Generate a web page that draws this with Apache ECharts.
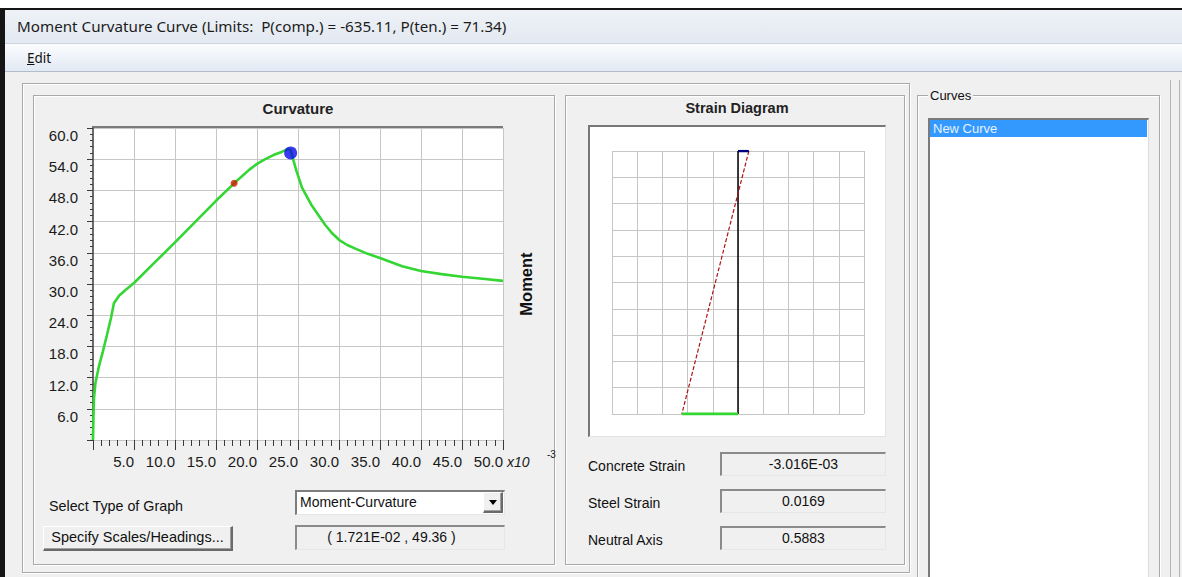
<!DOCTYPE html>
<html>
<head>
<meta charset="utf-8">
<title>Moment Curvature Curve</title>
<script src="https://cdn.jsdelivr.net/npm/echarts@6/dist/echarts.min.js"></script>
<style>
  html, body { margin: 0; padding: 0; background: #fff; }
  #page { position: relative; width: 1182px; height: 577px; overflow: hidden; background: #fff;
          font-family: "Liberation Sans", Arial, sans-serif; color: #111; }
  .a { position: absolute; box-sizing: border-box; }
  .win { left: 0; top: 8px; width: 1200px; height: 600px; background: #f0f0f0;
         border-top: 2px solid #151515; border-left: 5px solid #151515; }
  .titlebar { left: 5px; top: 10px; width: 1180px; height: 33px;
              background: linear-gradient(#eef2f7, #e3e9f1); }
  .titletext { left: 17px; top: 10px; height: 33px; line-height: 33px; white-space: pre;
               font-family: "Noto Sans", "Open Sans", sans-serif; font-size: 15.2px; color: #1c1c1c; }
  .menubar { left: 5px; top: 43px; width: 1180px; height: 29px;
             background: linear-gradient(#fbfcfe, #e2e9f4); border-top: 1px solid #ccd4df; border-bottom: 1px solid #b3bccb; }
  .menutext { left: 27px; top: 44px; height: 29px; line-height: 29px;
              font-family: "Noto Sans", "Open Sans", sans-serif; font-size: 13.5px; color: #111; }
  .etched { border: 1px solid #a9a9a9; box-shadow: inset 1px 1px 0 #fff, 1px 1px 0 #fff; }
  .plotbox { left: 92px; top: 126px; width: 411px; height: 314px; background: #fff; border-top: 2px solid #7a7a7a; }
  .strainbox { left: 588px; top: 125px; width: 298px; height: 312px; background: #fff;
               border-top: 2px solid #777; border-left: 2px solid #777; border-right: 1px solid #e4e4e4; border-bottom: 1px solid #e4e4e4; }
  .lbl { font-size: 14px; white-space: pre; }
  .sunken { border-top: 2px solid #8a8a8a; border-left: 2px solid #8a8a8a; border-right: 1px solid #e6e6e6; border-bottom: 1px solid #e6e6e6;
            background: #f0f0f0; text-align: center; white-space: pre; }
  .raised { border-top: 1px solid #fff; border-left: 1px solid #fff; border-right: 2px solid #6a6a6a; border-bottom: 2px solid #6a6a6a;
            background: #f0f0f0; text-align: center; white-space: pre; box-shadow: inset -1px -1px 0 #a0a0a0; }
  #chart { position: absolute; left: 0; top: 0; width: 1182px; height: 577px; }
</style>
</head>
<body>
<div id="page">
  <div class="a win"></div>
  <div class="a titlebar"></div>
  <div class="a titletext">Moment Curvature Curve (Limits:  P(comp.) = -635.11, P(ten.) = 71.34)</div>
  <div class="a menubar"></div>
  <div class="a menutext"><u>E</u>dit</div>

  <!-- left group with the two plot panels -->
  <div class="a etched" style="left:22px;top:83px;width:888px;height:490px;"></div>
  <div class="a etched" style="left:33px;top:95px;width:522px;height:470px;"></div>
  <div class="a etched" style="left:565px;top:95px;width:340px;height:470px;"></div>
  <div class="a plotbox"></div>
  <div class="a strainbox"></div>

  <!-- graph controls -->
  <div class="a lbl" style="left:49px;top:498px;line-height:16px;font-size:14.3px;">Select Type of Graph</div>
  <div class="a" style="left:295px;top:490px;width:210px;height:25px;background:#fff;border-top:2px solid #7d7d7d;border-left:2px solid #7d7d7d;border-right:1px solid #e6e6e6;border-bottom:1px solid #e6e6e6;"></div>
  <div class="a lbl" style="left:300px;top:494px;line-height:16px;">Moment-Curvature</div>
  <div class="a raised" style="left:483px;top:492px;width:20px;height:21px;"></div>
  <div class="a" style="left:489px;top:500px;width:0;height:0;border-left:4px solid transparent;border-right:4px solid transparent;border-top:5px solid #000;"></div>
  <div class="a raised lbl" id="btnScales" style="left:43px;top:526px;width:190px;height:25px;line-height:21px;font-size:14.5px;">Specify Scales/Headings...</div>
  <div class="a sunken lbl" id="readout" style="left:295px;top:525px;width:210px;height:25px;line-height:21px;padding-right:18px;"></div>

  <!-- section results -->
  <div class="a lbl" style="left:588px;top:458px;line-height:16px;">Concrete Strain</div>
  <div class="a lbl" style="left:588px;top:495px;line-height:16px;">Steel Strain</div>
  <div class="a lbl" style="left:588px;top:532px;line-height:16px;">Neutral Axis</div>
  <div class="a sunken lbl" id="boxConcrete" style="left:720px;top:452px;width:166px;height:24px;line-height:20px;"></div>
  <div class="a sunken lbl" id="boxSteel" style="left:720px;top:489px;width:166px;height:24px;line-height:20px;"></div>
  <div class="a sunken lbl" id="boxNeutral" style="left:720px;top:526px;width:166px;height:24px;line-height:20px;"></div>

  <!-- curves list -->
  <div class="a etched" style="left:917px;top:95px;width:243px;height:520px;"></div>
  <div class="a lbl" style="left:928px;top:88px;line-height:15px;background:#f0f0f0;padding:0 2px;font-size:13px;">Curves</div>
  <div class="a" style="left:928px;top:118px;width:221px;height:480px;background:#fff;border-top:2px solid #7a7a7a;border-left:2px solid #7a7a7a;border-right:1px solid #dcdcdc;"></div>
  <div class="a lbl" style="left:930px;top:120px;width:217px;height:17px;line-height:17px;background:#3399ff;color:#e6f3ff;padding-left:3px;font-size:13px;">New Curve</div>
  <div class="a" style="left:1170px;top:80px;width:1px;height:500px;background:#b4b4b4;"></div>
  <div class="a" style="left:1179px;top:80px;width:1px;height:500px;background:#b4b4b4;"></div>

  <div id="chart"></div>
</div>

<script>
// Moment-curvature response (curvature in units of 1e-3)
const curvature = [0, 0.05, 0.12, 0.3, 0.7, 1.2, 1.7, 2.2, 2.55, 3.2, 4.0, 5.0, 7.5, 10.0, 12.5, 15.0,
                   17.21, 19.0, 20.0, 21.0, 22.0, 23.0, 23.7, 24.1, 24.4, 24.8, 25.5, 26.6, 28.3, 29.2,
                   30.0, 31.0, 32.0, 33.5, 35.0, 37.7, 40.0, 42.5, 45.0, 47.5, 50.0];
const moment = [0, 4, 8, 11, 14, 17, 20.2, 23.5, 26.3, 27.8, 28.9, 30.2, 34.1, 38.0, 42.0, 46.0,
                49.36, 51.9, 53.1, 54.0, 54.8, 55.4, 55.9, 55.8, 54.0, 51.8, 48.5, 45.3, 41.4, 39.7,
                38.5, 37.5, 36.8, 35.8, 35.0, 33.4, 32.5, 31.9, 31.4, 31.0, 30.6];
// cursor point (curvature 1e-3, moment) and the ultimate-moment marker
const cursorPoint = [17.21, 49.36];
const peakPoint = [24.1, 55.2];

// axis ticks of the moment-curvature plot
const curvatureTicks = [0, 50, 5];
const momentTicks = [0, 60, 6];

// strain profile over the section depth (strain in per mille, depth in grid rows from the top fibre)
const fibreDepth = [0, 10];
const fibreStrain = [-3.016, 15.6];
const steelStrain = 0.0169;
const neutralAxis = 0.5883;

function sci(v) {
  const parts = v.toExponential(3).split('e');
  const n = parseInt(parts[1], 10);
  return parts[0] + 'E' + (n < 0 ? '-' : '+') + String(Math.abs(n)).padStart(2, '0');
}

document.getElementById('readout').textContent =
  '( ' + sci(cursorPoint[0] / 1000) + ' , ' + cursorPoint[1].toFixed(2) + ' )';
document.getElementById('boxConcrete').textContent = sci(fibreStrain[0] / 1000);
document.getElementById('boxSteel').textContent = steelStrain.toFixed(4);
document.getElementById('boxNeutral').textContent = neutralAxis.toFixed(4);

const curveData = curvature.map((c, i) => [c, moment[i]]);
// plotted abscissa is the negated strain, so compression lies to the right
const profile = fibreDepth.map((d, i) => [-fibreStrain[i], d]);
const topFibre = [[0, fibreDepth[0]], profile[0]];
const bottomFibre = [[0, fibreDepth[1]], profile[1]];
const zeroLine = [[0, fibreDepth[0]], [0, fibreDepth[1]]];

const tickFont = { fontFamily: 'Liberation Sans', fontSize: 15, color: '#1a1a1a' };
const gridLine = { show: true, lineStyle: { color: '#c6c6c6', width: 1 } };
const tickColor = '#3a3a3a';

const chart = echarts.init(document.getElementById('chart'), null, { renderer: 'svg' });
chart.setOption({
  animation: false,
  grid: [
    { left: 93, top: 128, width: 410, height: 312 },
    { left: 612, top: 151, width: 252, height: 263 }
  ],
  xAxis: [
    {
      gridIndex: 0, type: 'value', min: curvatureTicks[0], max: curvatureTicks[1], interval: curvatureTicks[2],
      offset: 3,
      axisLine: { show: false },
      axisTick: { show: true, length: 10, lineStyle: { color: tickColor } },
      minorTick: { show: true, splitNumber: 5, length: 6, lineStyle: { color: tickColor } },
      axisLabel: Object.assign({ showMinLabel: false, align: 'right', margin: 11,
                                 formatter: v => v.toFixed(1) }, tickFont),
      splitLine: gridLine
    },
    {
      gridIndex: 1, type: 'value', min: -35, max: 35, interval: 7,
      axisLine: { show: false }, axisTick: { show: false }, axisLabel: { show: false },
      splitLine: gridLine
    }
  ],
  yAxis: [
    {
      gridIndex: 0, type: 'value', min: momentTicks[0], max: momentTicks[1], interval: momentTicks[2],
      axisLine: { show: true, lineStyle: { color: '#6a6a6a', width: 2 } },
      axisTick: { show: true, length: 6, lineStyle: { color: tickColor } },
      minorTick: { show: true, splitNumber: 5, length: 3, lineStyle: { color: tickColor } },
      axisLabel: Object.assign({ showMinLabel: false, verticalAlign: 'top', margin: 15,
                                 formatter: v => v.toFixed(1) }, tickFont),
      splitLine: gridLine
    },
    {
      gridIndex: 0, type: 'value', position: 'right', min: momentTicks[0], max: momentTicks[1],
      name: 'Moment', nameLocation: 'middle', nameRotate: 90, nameGap: 14,
      nameTextStyle: { fontFamily: 'Liberation Sans', fontWeight: 'bold', fontSize: 16.5, color: '#111' },
      axisLine: { show: false }, axisTick: { show: false }, axisLabel: { show: false }, splitLine: { show: false }
    },
    {
      gridIndex: 1, type: 'value', min: 0, max: 10, interval: 1, inverse: true,
      axisLine: { show: false }, axisTick: { show: false }, axisLabel: { show: false },
      splitLine: gridLine
    }
  ],
  graphic: [
    { type: 'text', x: 298, y: 108,
      style: { text: 'Curvature', font: 'bold 15px "Liberation Sans"', fill: '#222', align: 'center', verticalAlign: 'middle' } },
    { type: 'text', x: 737, y: 108,
      style: { text: 'Strain Diagram', font: 'bold 14.5px "Liberation Sans"', fill: '#222', align: 'center', verticalAlign: 'middle' } },
    { type: 'text', left: 507, top: 455,
      style: { text: 'x10', font: 'italic 14px "Liberation Sans"', fill: '#1a1a1a' } },
    { type: 'text', left: 547, top: 449,
      style: { text: '-3', font: '10px "Liberation Sans"', fill: '#1a1a1a' } }
  ],
  series: [
    {
      name: 'Moment-Curvature', type: 'line', xAxisIndex: 0, yAxisIndex: 0,
      data: curveData, showSymbol: false, smooth: false,
      lineStyle: { color: '#33d633', width: 2.6 }, z: 3
    },
    {
      name: 'Cursor', type: 'scatter', xAxisIndex: 0, yAxisIndex: 0,
      data: [cursorPoint], symbolSize: 7, itemStyle: { color: '#cc1a00' }, z: 4
    },
    {
      name: 'Peak', type: 'scatter', xAxisIndex: 0, yAxisIndex: 0,
      data: [peakPoint], symbolSize: 13, itemStyle: { color: '#0b0bea' }, z: 5
    },
    {
      name: 'Section', type: 'line', xAxisIndex: 1, yAxisIndex: 2, data: zeroLine,
      showSymbol: false, lineStyle: { color: '#000', width: 1.5 }, z: 3
    },
    {
      name: 'Profile', type: 'line', xAxisIndex: 1, yAxisIndex: 2, data: profile,
      showSymbol: false, lineStyle: { color: '#b01010', width: 1.2, type: [4, 2] }, z: 4
    },
    {
      name: 'Compression', type: 'line', xAxisIndex: 1, yAxisIndex: 2, data: topFibre,
      showSymbol: false, lineStyle: { color: '#00007f', width: 2.5 }, z: 5
    },
    {
      name: 'Tension', type: 'line', xAxisIndex: 1, yAxisIndex: 2, data: bottomFibre,
      showSymbol: false, lineStyle: { color: '#33d633', width: 3 }, z: 5
    }
  ]
});
</script>
</body>
</html>
